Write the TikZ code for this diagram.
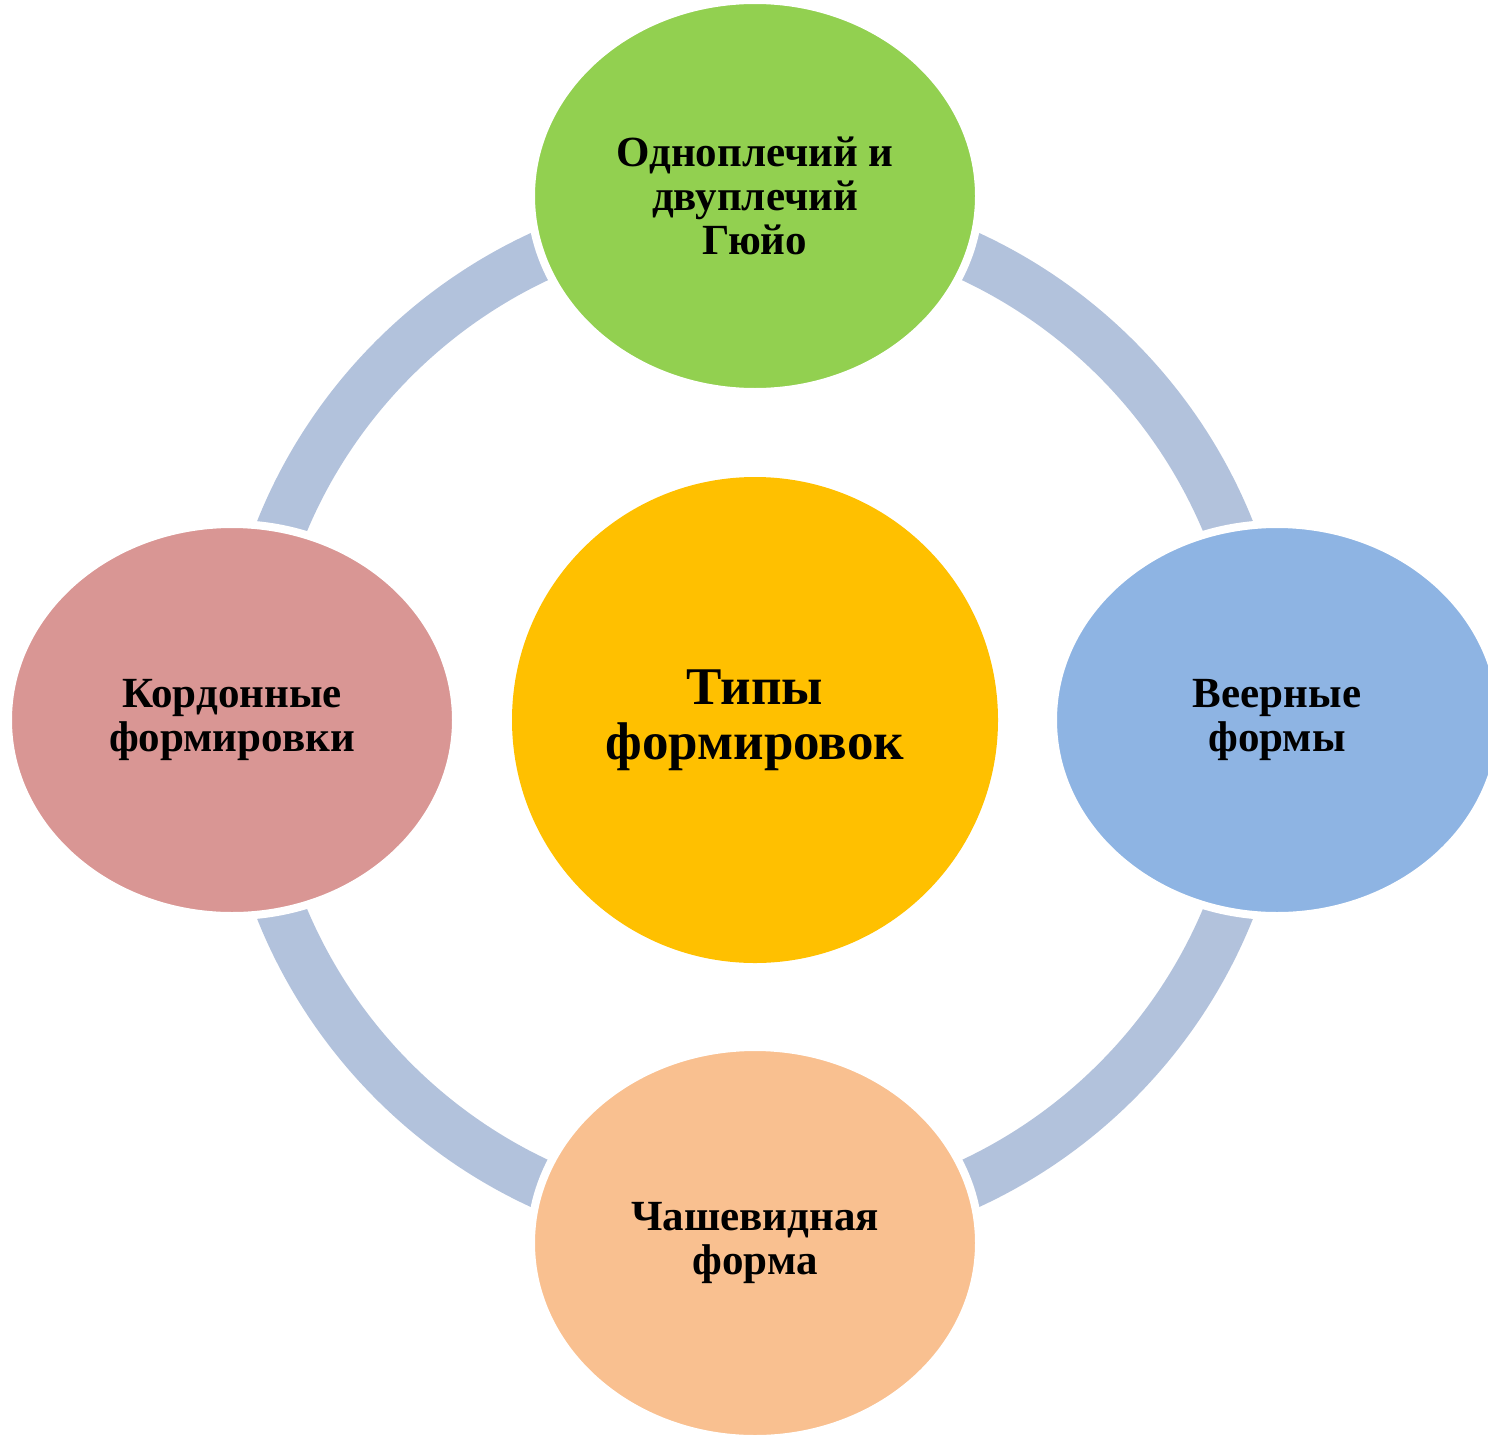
\documentclass[tikz,border=0pt]{standalone}
\usepackage{fontspec}
\setmainfont{Liberation Serif}
\usetikzlibrary{shapes.geometric}
\definecolor{ringc}{HTML}{B2C2DC}
\definecolor{cgreen}{HTML}{92D050}
\definecolor{cgold}{HTML}{FFC000}
\definecolor{cblue}{HTML}{8EB4E3}
\definecolor{crose}{HTML}{D99694}
\definecolor{cpeach}{HTML}{F9C090}
\tikzset{
  outer/.style={ellipse, draw=white, line width=8pt, minimum width=448pt, minimum height=392pt, inner sep=0pt, align=center, font=\fontsize{43}{44}\selectfont\bfseries},
  hub/.style={circle, minimum size=486pt, inner sep=0pt, align=center, font=\fontsize{53}{55}\selectfont\bfseries}
}
\begin{document}
\begin{tikzpicture}[x=1pt,y=-1pt]
\useasboundingbox (0,0) rectangle (1488,1440);
\clip (0,0) rectangle (1488,1440);
\coordinate (c) at (755,720);
\draw[ringc, line width=50pt] (c) circle (511pt);
\node[outer, fill=cgreen] (top) at (755,196) {Одноплечий и\\двуплечий\\Гюйо};
\node[outer, fill=cblue] (right) at (1277,720) {Веерные\\формы};
\node[outer, fill=crose] (left) at (232,720) {Кордонные\\формировки};
\node[outer, fill=cpeach] (bottom) at (755,1243) {Чашевидная\\форма};
\node[hub, fill=cgold] (hub) at (c) {Типы\\формировок};
\end{tikzpicture}
\end{document}
